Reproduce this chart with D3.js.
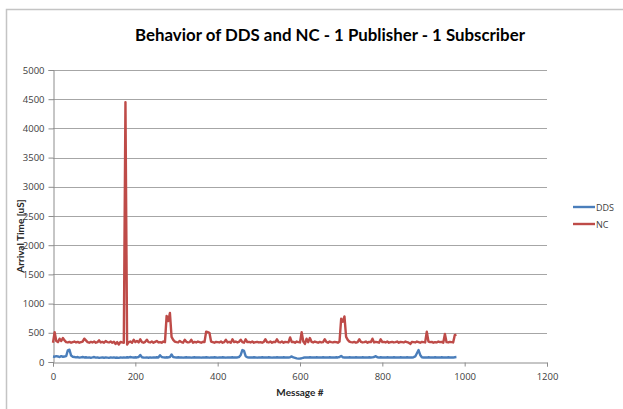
<!DOCTYPE html>
<html>
<head>
<meta charset="utf-8">
<script src="https://cdn.jsdelivr.net/npm/d3@7"></script>
<style>
  html, body { margin: 0; padding: 0; background: #fff; }
  svg { display: block; }
</style>
</head>
<body>
<svg id="chart" width="623" height="409"></svg>
<script>
// ---- data (one sample every 4 messages) ----
const messageNumbers = d3.range(0, 981, 4);

const ncValues = [
  330,510,360,340,400,360,410,370,340,335,345,330,340,350,335,345,330,340,350,400,
  370,340,330,345,335,350,330,340,370,335,345,330,360,340,335,350,330,345,310,340,
  300,345,335,330,4450,300,340,350,330,380,340,360,335,390,340,330,345,380,340,335,
  350,330,345,360,335,340,330,350,340,790,700,840,430,380,350,340,335,360,340,330,
  380,345,335,340,380,330,345,335,350,340,330,345,340,520,510,500,350,340,330,345,
  340,335,350,330,340,380,335,345,330,390,340,350,335,345,380,340,330,390,340,345,
  335,350,330,340,345,335,340,330,345,390,340,335,350,330,345,340,390,340,335,350,
  330,345,340,335,420,340,345,330,350,340,335,510,350,310,400,340,410,345,335,350,
  340,330,345,335,340,390,345,330,350,340,335,345,340,330,350,740,690,780,430,380,
  350,340,335,345,330,340,390,345,335,340,350,330,345,340,400,335,345,340,330,390,
  340,345,335,350,330,340,345,335,340,350,330,345,340,335,350,340,330,310,345,340,
  335,350,340,330,345,340,335,520,350,340,345,330,340,335,350,340,345,330,480,340,
  335,345,340,335,460,470
];

const ddsValues = [
  95,90,100,95,85,100,90,95,100,200,210,110,90,85,80,85,75,80,85,78,
  82,75,80,72,78,85,75,80,70,75,78,72,80,75,70,78,74,80,72,76,
  70,78,74,80,75,82,78,85,80,76,82,78,85,120,82,78,75,80,72,78,
  74,80,76,82,78,115,85,80,76,82,78,85,130,85,80,76,82,78,80,74,
  78,82,76,80,74,78,82,76,80,78,74,80,76,82,78,74,80,76,82,78,
  74,80,76,82,78,74,80,76,78,82,76,80,78,85,120,205,190,100,82,78,
  80,76,82,78,74,80,76,82,78,80,76,82,78,74,80,76,82,78,80,76,
  82,78,80,76,82,95,78,70,62,58,60,65,72,78,80,76,82,78,80,76,
  82,78,80,76,82,78,80,76,82,78,80,76,82,78,85,105,82,78,80,76,
  82,78,80,76,82,78,80,76,82,78,80,76,82,78,80,85,100,80,76,82,
  78,80,76,82,78,80,76,82,78,80,76,82,78,80,76,82,78,80,76,82,
  95,150,205,120,82,78,80,76,82,78,80,76,82,78,80,76,82,78,80,76,
  82,78,80,76,82,85
];

const seriesNames = ["DDS", "NC"];
const xTicks = [0, 200, 400, 600, 800, 1000, 1200];
const yTicks = [0, 500, 1000, 1500, 2000, 2500, 3000, 3500, 4000, 4500, 5000];
const titleText = "Behavior of DDS and NC - 1 Publisher - 1 Subscriber";
const xTitle = "Message #";
const yTitle = "Arrival Time [uS]";

// ---- layout ----
const colors = { DDS: "#4a7ebb", NC: "#be4b48" };
const plot = { left: 53, right: 547, top: 70, bottom: 362 };
const svg = d3.select("#chart");

// outer frame
svg.append("rect")
  .attr("x", 6.5).attr("y", 9.5)
  .attr("width", 700).attr("height", 500)
  .attr("fill", "#fff")
  .attr("stroke", "#c4c4c4").attr("stroke-width", 1.5);

const x = d3.scaleLinear().domain([0, 1200]).range([plot.left, plot.right]);
const y = d3.scaleLinear().domain([0, 5000]).range([plot.bottom, plot.top]);

// gridlines
svg.append("g")
  .selectAll("line")
  .data(yTicks.filter(d => d > 0))
  .join("line")
  .attr("x1", plot.left).attr("x2", plot.right)
  .attr("y1", d => Math.round(y(d)) + 0.5).attr("y2", d => Math.round(y(d)) + 0.5)
  .attr("stroke", "#a6a6a6").attr("stroke-width", 1);

// y axis
const yAxis = svg.append("g")
  .attr("transform", `translate(${plot.left + 0.5},0)`)
  .call(d3.axisLeft(y).tickValues(yTicks).tickSize(5).tickPadding(4).tickFormat(d3.format("d")));
yAxis.select(".domain").attr("stroke", "#8c8c8c");
yAxis.selectAll(".tick line").attr("stroke", "#8c8c8c");
yAxis.selectAll(".tick text")
  .attr("font-family", "'Open Sans', 'DejaVu Sans', sans-serif")
  .attr("font-size", 9.5).attr("fill", "#404040");

// x axis
const xAxis = svg.append("g")
  .attr("transform", `translate(0,${plot.bottom + 0.5})`)
  .call(d3.axisBottom(x).tickValues(xTicks).tickSize(4).tickPadding(7).tickFormat(d3.format("d")));
xAxis.select(".domain").attr("stroke", "#8c8c8c");
xAxis.selectAll(".tick line").attr("stroke", "#8c8c8c");
xAxis.selectAll(".tick text")
  .attr("font-family", "'Open Sans', 'DejaVu Sans', sans-serif")
  .attr("font-size", 9.5).attr("fill", "#404040");

// lines
const line = d3.line().x((d, i) => x(messageNumbers[i])).y(d => y(d));
const seriesData = { DDS: ddsValues, NC: ncValues };
seriesNames.forEach(name => {
  svg.append("path")
    .datum(seriesData[name])
    .attr("fill", "none")
    .attr("stroke", colors[name])
    .attr("stroke-width", 2.4)
    .attr("stroke-linejoin", "round")
    .attr("d", line);
});

// title
const title = svg.append("text")
  .attr("x", 330).attr("y", 41)
  .attr("text-anchor", "middle")
  .attr("font-family", "Lato, 'Open Sans', sans-serif")
  .attr("font-weight", "bold")
  .attr("font-size", 16)
  .attr("fill", "#000")
  .text(titleText);
const tw = title.node().getComputedTextLength();
if (tw > 0) title.attr("font-size", 16 * 390 / tw);

// axis titles
svg.append("text")
  .attr("x", 300).attr("y", 396)
  .attr("text-anchor", "middle")
  .attr("font-family", "Lato, 'Open Sans', sans-serif")
  .attr("font-weight", "bold")
  .attr("font-size", 10)
  .attr("fill", "#262626")
  .text(xTitle);

svg.append("text")
  .attr("transform", "translate(24,236) rotate(-90)")
  .attr("text-anchor", "middle")
  .attr("font-family", "Lato, 'Open Sans', sans-serif")
  .attr("font-weight", "bold")
  .attr("font-size", 10)
  .attr("fill", "#262626")
  .text(yTitle);

// legend
const legend = svg.append("g");
seriesNames.forEach((name, i) => {
  const ly = 207 + i * 17;
  legend.append("line")
    .attr("x1", 573).attr("x2", 595)
    .attr("y1", ly).attr("y2", ly)
    .attr("stroke", colors[name]).attr("stroke-width", 2.4);
  legend.append("text")
    .attr("x", 596).attr("y", ly + 3.5)
    .attr("font-family", "'Open Sans', 'DejaVu Sans', sans-serif")
    .attr("font-size", 9)
    .attr("fill", "#404040")
    .text(name);
});
</script>
</body>
</html>
